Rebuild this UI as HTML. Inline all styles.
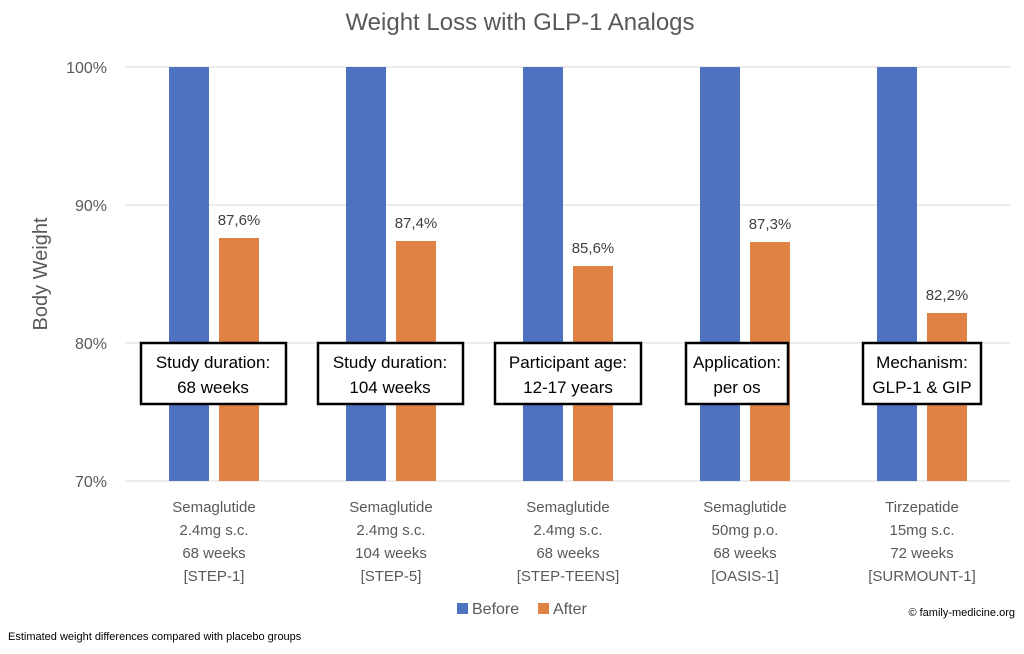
<!DOCTYPE html>
<html><head><meta charset="utf-8"><style>
body{margin:0;background:#fff;}
svg text{font-family:"Liberation Sans",sans-serif;}
</style></head><body>
<svg width="1024" height="649" xmlns="http://www.w3.org/2000/svg">
<rect width="1024" height="649" fill="#fff"/>
<text x="520" y="30" text-anchor="middle" font-size="24" fill="#595959">Weight Loss with GLP-1 Analogs</text>
<g stroke="#d9d9d9" stroke-width="1">
<line x1="125" y1="67" x2="1010" y2="67"/>
<line x1="125" y1="205" x2="1010" y2="205"/>
<line x1="125" y1="343" x2="1010" y2="343"/>
<line x1="125" y1="481" x2="1010" y2="481"/>
</g>
<g font-size="16" fill="#595959" text-anchor="end">
<text x="107" y="73">100%</text>
<text x="107" y="211">90%</text>
<text x="107" y="349">80%</text>
<text x="107" y="487">70%</text>
</g>
<text transform="translate(47,274) rotate(-90)" text-anchor="middle" font-size="20" fill="#595959">Body Weight</text>
<g fill="#4f72c0">
<rect x="169" y="67" width="40" height="414"/>
<rect x="346" y="67" width="40" height="414"/>
<rect x="523" y="67" width="40" height="414"/>
<rect x="700" y="67" width="40" height="414"/>
<rect x="877" y="67" width="40" height="414"/>
</g>
<g fill="#e08244">
<rect x="219" y="238" width="40" height="243"/>
<rect x="396" y="241" width="40" height="240"/>
<rect x="573" y="266" width="40" height="215"/>
<rect x="750" y="242" width="40" height="239"/>
<rect x="927" y="313" width="40" height="168"/>
</g>
<g font-size="15" fill="#404040" text-anchor="middle">
<text x="239" y="225">87,6%</text>
<text x="416" y="228">87,4%</text>
<text x="593" y="253">85,6%</text>
<text x="770" y="229">87,3%</text>
<text x="947" y="300">82,2%</text>
</g>
<g fill="#fff" stroke="#000" stroke-width="2.5">
<rect x="141" y="343" width="145" height="61"/>
<rect x="318" y="343" width="145" height="61"/>
<rect x="495" y="343" width="146" height="61"/>
<rect x="686" y="343" width="102" height="61"/>
<rect x="863" y="343" width="118" height="61"/>
</g>
<g font-size="17" fill="#000" text-anchor="middle">
<text x="213" y="368">Study duration:</text><text x="213" y="393">68 weeks</text>
<text x="390" y="368">Study duration:</text><text x="390" y="393">104 weeks</text>
<text x="568" y="368">Participant age:</text><text x="568" y="393">12-17 years</text>
<text x="737" y="368">Application:</text><text x="737" y="393">per os</text>
<text x="922" y="368">Mechanism:</text><text x="922" y="393">GLP-1 &amp; GIP</text>
</g>
<g font-size="15" fill="#595959" text-anchor="middle">
<text x="214" y="512">Semaglutide</text><text x="214" y="535">2.4mg s.c.</text><text x="214" y="558">68 weeks</text><text x="214" y="581">[STEP-1]</text>
<text x="391" y="512">Semaglutide</text><text x="391" y="535">2.4mg s.c.</text><text x="391" y="558">104 weeks</text><text x="391" y="581">[STEP-5]</text>
<text x="568" y="512">Semaglutide</text><text x="568" y="535">2.4mg s.c.</text><text x="568" y="558">68 weeks</text><text x="568" y="581">[STEP-TEENS]</text>
<text x="745" y="512">Semaglutide</text><text x="745" y="535">50mg p.o.</text><text x="745" y="558">68 weeks</text><text x="745" y="581">[OASIS-1]</text>
<text x="922" y="512">Tirzepatide</text><text x="922" y="535">15mg s.c.</text><text x="922" y="558">72 weeks</text><text x="922" y="581">[SURMOUNT-1]</text>
</g>
<rect x="457" y="603" width="11" height="11" fill="#4f72c0"/>
<text x="472" y="614" font-size="16" fill="#595959">Before</text>
<rect x="538" y="603" width="11" height="11" fill="#e08244"/>
<text x="553" y="614" font-size="16" fill="#595959">After</text>
<text x="1015" y="616" font-size="11" fill="#000" text-anchor="end">© family-medicine.org</text>
<text x="8" y="640" font-size="11" fill="#000">Estimated weight differences compared with placebo groups</text>
</svg>
</body></html>
